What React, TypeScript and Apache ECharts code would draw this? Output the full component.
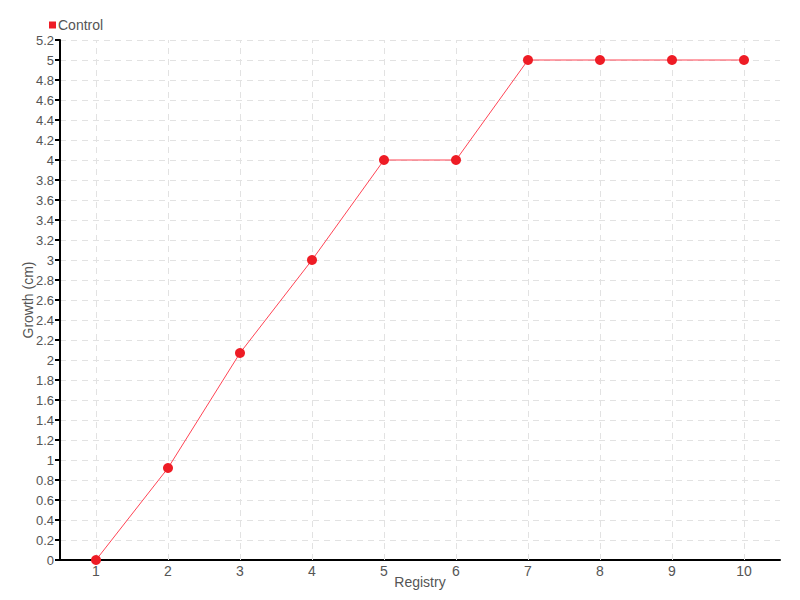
import React, { useEffect, useRef } from "react";
import * as echarts from "echarts";

const categories = ["1", "2", "3", "4", "5", "6", "7", "8", "9", "10"];
const controlValues = [0, 0.92, 2.07, 3, 4, 4, 5, 5, 5, 5];
const seriesName = "Control";
const FONT = "'Liberation Sans', Arial, sans-serif";

export default function App() {
  const ref = useRef<HTMLDivElement>(null);
  useEffect(() => {
    if (!ref.current) return;
    const chart = echarts.init(ref.current, null, { renderer: "svg" });
    chart.setOption({
      animation: false,
      textStyle: { fontFamily: FONT },
      legend: {
        left: 44,
        top: 13,
        itemWidth: 7,
        itemHeight: 7,
        itemGap: 4,
        icon: "rect",
        textStyle: { fontFamily: FONT, fontSize: 14, color: "#555", padding: [0, 0, 0, -3] },
        data: [seriesName],
      },
      grid: { left: 60, right: 20, top: 40, bottom: 40, containLabel: false, outerBoundsMode: "none" },
      xAxis: {
        type: "category",
        data: categories,
        boundaryGap: true,
        name: "Registry",
        nameLocation: "middle",
        nameGap: 15,
        nameMoveOverlap: false,
        nameTextStyle: { fontFamily: FONT, fontSize: 14, color: "#555" },
        axisLine: { lineStyle: { color: "#000", width: 2 } },
        axisTick: { alignWithLabel: true, length: 5, lineStyle: { color: "#000", width: 2 } },
        axisLabel: { fontFamily: FONT, fontSize: 14, color: "#555", margin: 4 },
        splitLine: { show: false },
      },
      yAxis: {
        type: "value",
        min: 0,
        max: 5.2,
        interval: 0.2,
        name: "Growth (cm)",
        nameLocation: "middle",
        nameGap: 25,
        nameMoveOverlap: false,
        nameTextStyle: { fontFamily: FONT, fontSize: 14, color: "#555" },
        axisLine: { show: true, lineStyle: { color: "#000", width: 2 } },
        axisTick: { show: true, length: 5, lineStyle: { color: "#000", width: 2 } },
        axisLabel: {
          fontFamily: FONT,
          fontSize: 13,
          color: "#555",
          margin: 6,
          formatter: (v: number) => String(Math.round(v * 10) / 10),
        },
        splitLine: { show: true, lineStyle: { color: "#e2e2e2", type: [6, 5], width: 1 } },
      },
      series: [
        {
          name: "grid-lines",
          type: "line",
          data: [],
          silent: true,
          z: 1,
          markLine: {
            silent: true,
            z: 1,
            symbol: "none",
            label: { show: false },
            lineStyle: { color: "#e2e2e2", type: [6, 5], width: 1 },
            emphasis: { disabled: true },
            data: categories.map((c) => ({ xAxis: c })),
          },
        },
        {
          name: seriesName,
          type: "line",
          data: controlValues,
          z: 3,
          symbol: "circle",
          symbolSize: 10,
          itemStyle: { color: "#ee1c25" },
          lineStyle: { color: "#ff4455", width: 1 },
        },
      ],
    });
    return () => chart.dispose();
  }, []);
  return <div ref={ref} style={{ width: 800, height: 600, position: "absolute", left: 0, top: 0 }} />;
}
